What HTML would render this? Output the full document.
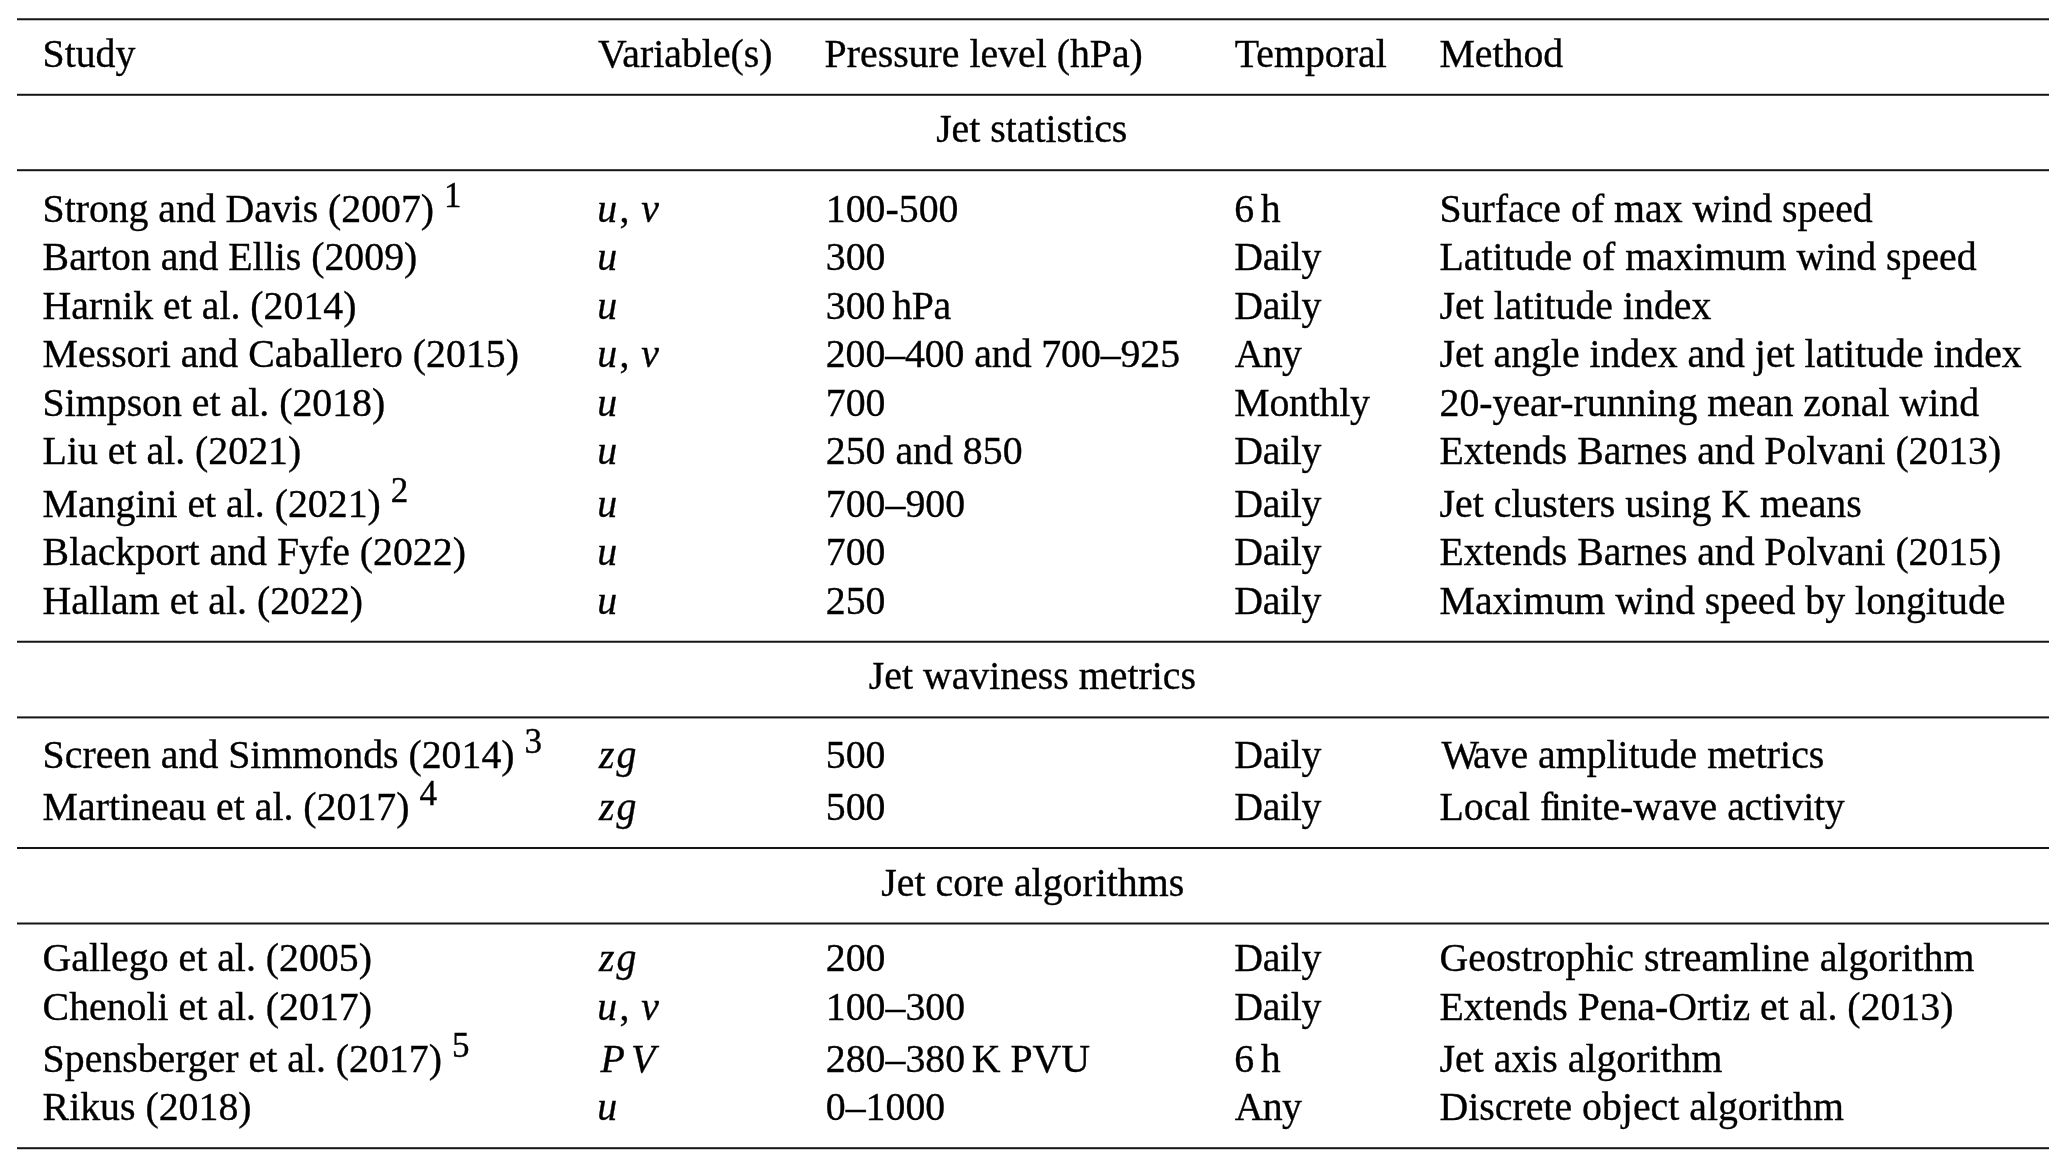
<!DOCTYPE html>
<html lang="en"><head><meta charset="utf-8"><title>Jet metrics table</title>
<style>
html,body{margin:0;padding:0;background:#fff;}
body{width:2067px;height:1167px;position:relative;overflow:hidden;}
#t{position:absolute;left:0;top:0;width:2067px;height:1167px;font-family:"Liberation Serif",serif;font-size:39.8px;line-height:40px;color:#000;will-change:transform;font-kerning:normal;-webkit-text-stroke:0.35px #000;}
.c{position:absolute;white-space:nowrap;height:40px;}
.h{position:absolute;left:0;width:2063.5px;text-align:center;white-space:nowrap;height:40px;}
.l{position:absolute;left:17px;width:2032px;}
.sp{font-size:0.88em;position:relative;top:-15px;line-height:1px;}
.th{letter-spacing:-3.32px;}
i{font-style:italic;}
.cm{margin-left:2.4px;}
.sv{letter-spacing:1.85px;}
.g{margin-left:2px;}
.pg{margin-left:6.2px;}
</style></head><body><div id="t">

<div class="l" style="top:18px;height:3px;background:linear-gradient(to bottom,#525252 0px,#525252 1px,#151515 1px,#151515 2px,#c2c2c2 2px,#c2c2c2 3px)"></div>
<div class="l" style="top:93px;height:3px;background:linear-gradient(to bottom,#cccccc 0px,#cccccc 1px,#151515 1px,#151515 2px,#484848 2px,#484848 3px)"></div>
<div class="l" style="top:169px;height:3px;background:linear-gradient(to bottom,#444444 0px,#444444 1px,#151515 1px,#151515 2px,#d0d0d0 2px,#d0d0d0 3px)"></div>
<div class="l" style="top:640px;height:3px;background:linear-gradient(to bottom,#c2c2c2 0px,#c2c2c2 1px,#151515 1px,#151515 2px,#525252 2px,#525252 3px)"></div>
<div class="l" style="top:716px;height:3px;background:linear-gradient(to bottom,#737373 0px,#737373 1px,#151515 1px,#151515 2px,#a1a1a1 2px,#a1a1a1 3px)"></div>
<div class="l" style="top:847px;height:3px;background:linear-gradient(to bottom,#151515 0px,#151515 1px,#151515 1px,#151515 2px,#ffffff 2px,#ffffff 3px)"></div>
<div class="l" style="top:922px;height:3px;background:linear-gradient(to bottom,#8a8a8a 0px,#8a8a8a 1px,#151515 1px,#151515 2px,#8a8a8a 2px,#8a8a8a 3px)"></div>
<div class="l" style="top:1147px;height:3px;background:linear-gradient(to bottom,#444444 0px,#444444 1px,#151515 1px,#151515 2px,#d0d0d0 2px,#d0d0d0 3px)"></div>
<div class="c" style="left:42.5px;top:34px">Study</div>
<div class="c" style="left:598px;top:34px">Variable(s)</div>
<div class="c" style="left:824.6px;top:34px">Pressure level (hPa)</div>
<div class="c" style="left:1234.8px;top:34px">Temporal</div>
<div class="c" style="left:1439.4px;top:34px">Method</div>
<div class="c" style="left:42.6px;top:189px"><span style="letter-spacing:-0.045px">Strong and Davis (2007)</span> <span class="sp">1</span></div>
<div class="c" style="left:597.2px;top:189px"><i>u</i><span class="cm">,</span><span class="sv"> </span><i>v</i></div>
<div class="c" style="left:825.8px;top:189px">100-500</div>
<div class="c" style="left:1234.3px;top:189px">6<span class="th"> </span>h</div>
<div class="c" style="left:1439.5px;top:189px">Surface of max wind speed</div>
<div class="c" style="left:42.6px;top:237px">Barton and Ellis (2009)</div>
<div class="c" style="left:597.2px;top:237px"><i>u</i></div>
<div class="c" style="left:825.8px;top:237px">300</div>
<div class="c" style="left:1234.3px;top:237px"><span style="letter-spacing:-0.300px">Daily</span></div>
<div class="c" style="left:1439.5px;top:237px">Latitude of maximum wind speed</div>
<div class="c" style="left:42.6px;top:286px">Harnik et al. (2014)</div>
<div class="c" style="left:597.2px;top:286px"><i>u</i></div>
<div class="c" style="left:825.8px;top:286px">300<span class="th"> </span><span style="letter-spacing:-0.3px">hPa</span></div>
<div class="c" style="left:1234.3px;top:286px"><span style="letter-spacing:-0.300px">Daily</span></div>
<div class="c" style="left:1439.5px;top:286px">Jet latitude index</div>
<div class="c" style="left:42.6px;top:334px">Messori and Caballero (2015)</div>
<div class="c" style="left:597.2px;top:334px"><i>u</i><span class="cm">,</span><span class="sv"> </span><i>v</i></div>
<div class="c" style="left:825.8px;top:334px"><span style="letter-spacing:-0.094px">200–400 and 700–925</span></div>
<div class="c" style="left:1234.8px;top:334px"><span style="letter-spacing:-0.750px">Any</span></div>
<div class="c" style="left:1439.5px;top:334px"><span style="letter-spacing:-0.035px">Jet angle index and jet latitude index</span></div>
<div class="c" style="left:42.6px;top:383px">Simpson et al. (2018)</div>
<div class="c" style="left:597.2px;top:383px"><i>u</i></div>
<div class="c" style="left:825.8px;top:383px">700</div>
<div class="c" style="left:1234.3px;top:383px"><span style="letter-spacing:-0.250px">Monthly</span></div>
<div class="c" style="left:1439.5px;top:383px">20-year-running mean zonal wind</div>
<div class="c" style="left:42.6px;top:431px">Liu et al. (2021)</div>
<div class="c" style="left:597.2px;top:431px"><i>u</i></div>
<div class="c" style="left:825.8px;top:431px">250 and 850</div>
<div class="c" style="left:1234.3px;top:431px"><span style="letter-spacing:-0.300px">Daily</span></div>
<div class="c" style="left:1439.5px;top:431px"><span style="letter-spacing:-0.062px">Extends Barnes and Polvani (2013)</span></div>
<div class="c" style="left:42.6px;top:484px">Mangini et al. (2021) <span class="sp">2</span></div>
<div class="c" style="left:597.2px;top:484px"><i>u</i></div>
<div class="c" style="left:825.8px;top:484px">700–900</div>
<div class="c" style="left:1234.3px;top:484px"><span style="letter-spacing:-0.300px">Daily</span></div>
<div class="c" style="left:1439.5px;top:484px">Jet clusters using K means</div>
<div class="c" style="left:42.6px;top:532px">Blackport and Fyfe (2022)</div>
<div class="c" style="left:597.2px;top:532px"><i>u</i></div>
<div class="c" style="left:825.8px;top:532px">700</div>
<div class="c" style="left:1234.3px;top:532px"><span style="letter-spacing:-0.300px">Daily</span></div>
<div class="c" style="left:1439.5px;top:532px"><span style="letter-spacing:-0.062px">Extends Barnes and Polvani (2015)</span></div>
<div class="c" style="left:42.6px;top:581px">Hallam et al. (2022)</div>
<div class="c" style="left:597.2px;top:581px"><i>u</i></div>
<div class="c" style="left:825.8px;top:581px">250</div>
<div class="c" style="left:1234.3px;top:581px"><span style="letter-spacing:-0.300px">Daily</span></div>
<div class="c" style="left:1439.5px;top:581px">Maximum wind speed by longitude</div>
<div class="c" style="left:42.6px;top:735px">Screen and Simmonds (2014) <span class="sp">3</span></div>
<div class="c" style="left:598.9px;top:735px"><span class="zg"><i>z</i><i class="g">g</i></span></div>
<div class="c" style="left:825.8px;top:735px">500</div>
<div class="c" style="left:1234.3px;top:735px"><span style="letter-spacing:-0.300px">Daily</span></div>
<div class="c" style="left:1441.5px;top:735px"><span style="letter-spacing:-6.2px">W</span>ave amplitude metrics</div>
<div class="c" style="left:42.6px;top:787px">Martineau et al. (2017) <span class="sp">4</span></div>
<div class="c" style="left:598.9px;top:787px"><span class="zg"><i>z</i><i class="g">g</i></span></div>
<div class="c" style="left:825.8px;top:787px">500</div>
<div class="c" style="left:1234.3px;top:787px"><span style="letter-spacing:-0.300px">Daily</span></div>
<div class="c" style="left:1439.5px;top:787px">Local <span style="letter-spacing:-2.6px">f</span><span style="letter-spacing:-1.4px">i</span>nite-wave <span style="letter-spacing:-0.28px">activity</span></div>
<div class="c" style="left:42.6px;top:938px">Gallego et al. (2005)</div>
<div class="c" style="left:598.9px;top:938px"><span class="zg"><i>z</i><i class="g">g</i></span></div>
<div class="c" style="left:825.8px;top:938px">200</div>
<div class="c" style="left:1234.3px;top:938px"><span style="letter-spacing:-0.300px">Daily</span></div>
<div class="c" style="left:1439.5px;top:938px">Geostrophic streamline algorithm</div>
<div class="c" style="left:42.6px;top:987px">Chenoli et al. (2017)</div>
<div class="c" style="left:597.2px;top:987px"><i>u</i><span class="cm">,</span><span class="sv"> </span><i>v</i></div>
<div class="c" style="left:825.8px;top:987px">100–300</div>
<div class="c" style="left:1234.3px;top:987px"><span style="letter-spacing:-0.300px">Daily</span></div>
<div class="c" style="left:1439.5px;top:987px">Extends Pena-Ortiz et al. (2013)</div>
<div class="c" style="left:42.6px;top:1039px">Spensberger et al. (2017) <span class="sp">5</span></div>
<div class="c" style="left:600.5px;top:1039px"><span class="pv"><i>P</i><i class="pg">V</i></span></div>
<div class="c" style="left:825.8px;top:1039px">280–380<span class="th"> </span>K PVU</div>
<div class="c" style="left:1234.3px;top:1039px">6<span class="th"> </span>h</div>
<div class="c" style="left:1439.5px;top:1039px">Jet axis algorithm</div>
<div class="c" style="left:42.6px;top:1087px">Rikus (2018)</div>
<div class="c" style="left:597.2px;top:1087px"><i>u</i></div>
<div class="c" style="left:825.8px;top:1087px">0–1000</div>
<div class="c" style="left:1234.8px;top:1087px"><span style="letter-spacing:-0.750px">Any</span></div>
<div class="c" style="left:1439.5px;top:1087px">Discrete object algorithm</div>
<div class="h" style="top:109px;left:0px">Jet statistics</div>
<div class="h" style="top:656px;left:0.6px">Jet waviness metrics</div>
<div class="h" style="top:863px;left:1px">Jet core algorithms</div>
</div></body></html>
